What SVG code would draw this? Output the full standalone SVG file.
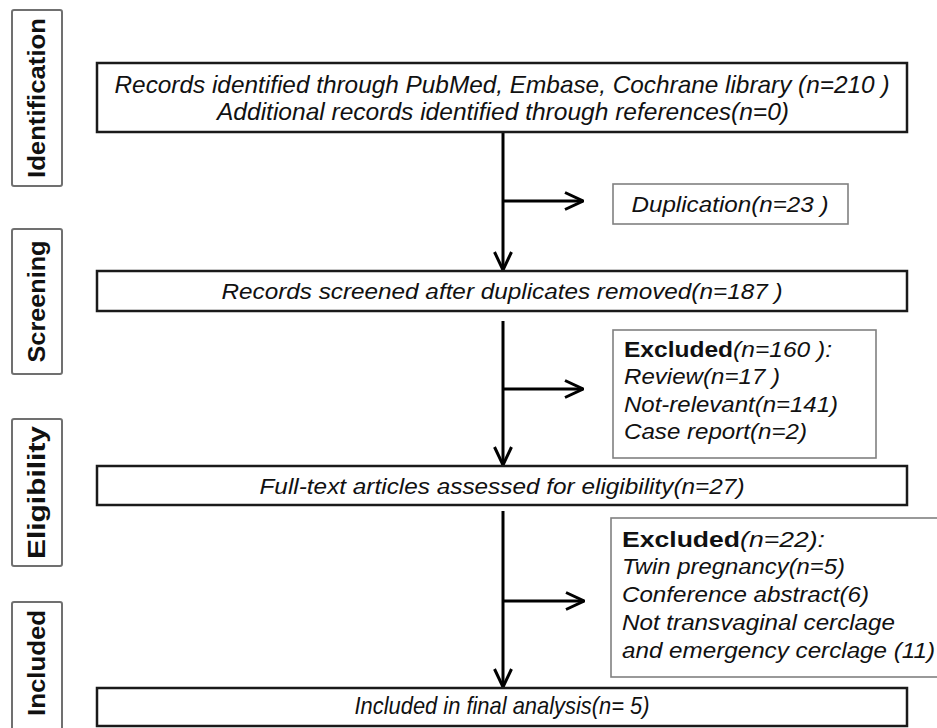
<svg xmlns="http://www.w3.org/2000/svg" width="937" height="728" viewBox="0 0 937 728">
<defs>
<style>
.main{fill:#fff;stroke:#1a1a1a;stroke-width:2.5}
.side{fill:#fff;stroke:#707070;stroke-width:2}
.excl{fill:#fff;stroke:#808080;stroke-width:1.6}
.stage{font-family:"Liberation Sans",Arial,sans-serif;font-weight:bold;font-size:23px;fill:#111}
.t{font-family:"Liberation Sans",Arial,sans-serif;font-style:italic;font-size:22px;fill:#111}
.n{font-family:"Liberation Sans",Arial,sans-serif;font-style:italic;font-size:24px;fill:#111}
.b{font-style:normal;font-weight:bold}
.con{stroke:#000;stroke-width:3;fill:none}
</style>
<marker id="arr" viewBox="0 0 20 20" refX="19" refY="10" markerWidth="20" markerHeight="20" orient="auto" markerUnits="userSpaceOnUse">
<path d="M1,1.5 L19,10 L1,18.5" fill="none" stroke="#000" stroke-width="3"/>
</marker>
</defs>
<rect width="937" height="728" fill="#fff"/>

<g id="stage-identification">
<rect class="side" x="12" y="10" width="50" height="176" rx="2"/>
<text class="stage" transform="translate(45,98) rotate(-90)" text-anchor="middle" textLength="160" lengthAdjust="spacingAndGlyphs">Identification</text>
</g>
<g id="stage-screening">
<rect class="side" x="12" y="229" width="50" height="145" rx="2"/>
<text class="stage" transform="translate(45,301.5) rotate(-90)" text-anchor="middle" textLength="122" lengthAdjust="spacingAndGlyphs">Screening</text>
</g>
<g id="stage-eligibility">
<rect class="side" x="12" y="419" width="50" height="147" rx="2"/>
<text class="stage" transform="translate(45,492.5) rotate(-90)" text-anchor="middle" textLength="133" lengthAdjust="spacingAndGlyphs">Eligibility</text>
</g>
<g id="stage-included">
<rect class="side" x="12" y="602" width="50" height="140" rx="2"/>
<text class="stage" transform="translate(45,663) rotate(-90)" text-anchor="middle" textLength="106" lengthAdjust="spacingAndGlyphs">Included</text>
</g>

<g id="connectors">
<line class="con" x1="503" y1="132" x2="503" y2="270" marker-end="url(#arr)"/>
<line class="con" x1="503" y1="201" x2="583" y2="201" marker-end="url(#arr)"/>
<line class="con" x1="503" y1="321" x2="503" y2="465" marker-end="url(#arr)"/>
<line class="con" x1="503" y1="389" x2="583" y2="389" marker-end="url(#arr)"/>
<line class="con" x1="503" y1="511" x2="503" y2="687" marker-end="url(#arr)"/>
<line class="con" x1="503" y1="601" x2="584" y2="601" marker-end="url(#arr)"/>
</g>

<g id="records-identified">
<rect class="main" x="97" y="63" width="810" height="69"/>
<text class="n" x="502" y="93" text-anchor="middle" textLength="775" lengthAdjust="spacingAndGlyphs">Records identified through PubMed, Embase, Cochrane library (n=210 )</text>
<text class="n" x="503" y="120" text-anchor="middle" textLength="572" lengthAdjust="spacingAndGlyphs">Additional records identified through references(n=0)</text>
</g>
<g id="duplication">
<rect class="excl" x="613" y="184" width="235" height="40"/>
<text class="t" x="730" y="212" text-anchor="middle" textLength="197" lengthAdjust="spacingAndGlyphs">Duplication(n=23 )</text>
</g>
<g id="records-screened">
<rect class="main" x="97" y="271" width="810" height="40"/>
<text class="t" x="502" y="299" text-anchor="middle" textLength="561" lengthAdjust="spacingAndGlyphs">Records screened after duplicates removed(n=187 )</text>
</g>
<g id="excluded-160">
<rect class="excl" x="613" y="330" width="263" height="128"/>
<text class="t" x="624" y="357" textLength="208" lengthAdjust="spacingAndGlyphs"><tspan class="b">Excluded</tspan>(n=160 ):</text>
<text class="t" x="624" y="384" textLength="156" lengthAdjust="spacingAndGlyphs">Review(n=17 )</text>
<text class="t" x="624" y="412" textLength="214" lengthAdjust="spacingAndGlyphs">Not-relevant(n=141)</text>
<text class="t" x="624" y="439" textLength="183" lengthAdjust="spacingAndGlyphs">Case report(n=2)</text>
</g>
<g id="full-text">
<rect class="main" x="97" y="466" width="810" height="39"/>
<text class="t" x="502" y="494" text-anchor="middle" textLength="485" lengthAdjust="spacingAndGlyphs">Full-text articles assessed for eligibility(n=27)</text>
</g>
<g id="excluded-22">
<rect class="excl" x="611" y="518" width="340" height="159"/>
<text class="t" x="622" y="547" textLength="203" lengthAdjust="spacingAndGlyphs"><tspan class="b">Excluded</tspan>(n=22):</text>
<text class="t" x="622" y="574" textLength="223" lengthAdjust="spacingAndGlyphs">Twin pregnancy(n=5)</text>
<text class="t" x="622" y="602" textLength="247" lengthAdjust="spacingAndGlyphs">Conference abstract(6)</text>
<text class="t" x="622" y="630" textLength="273" lengthAdjust="spacingAndGlyphs">Not transvaginal cerclage</text>
<text class="t" x="622" y="658" textLength="313" lengthAdjust="spacingAndGlyphs">and emergency cerclage (11)</text>
</g>
<g id="included-final">
<rect class="main" x="97" y="688" width="810" height="38"/>
<text class="n" x="502" y="714" text-anchor="middle" textLength="295" lengthAdjust="spacingAndGlyphs">Included in final analysis(n= 5)</text>
</g>
</svg>
